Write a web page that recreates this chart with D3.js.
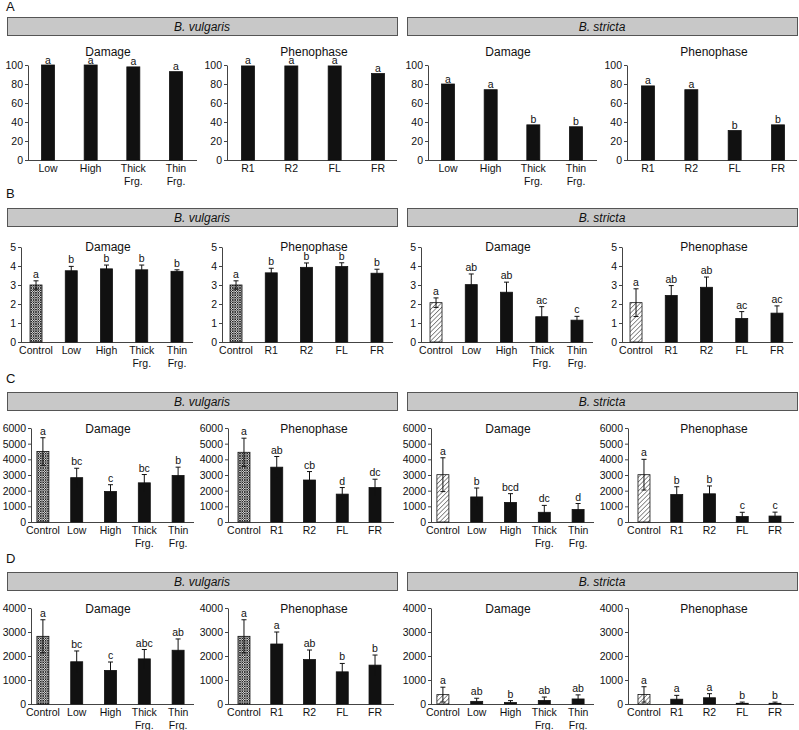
<!DOCTYPE html>
<html>
<head>
<meta charset="utf-8">
<script src="https://cdn.jsdelivr.net/npm/d3@7"></script>
<style>
 body { margin: 0; background: #fff; }
 svg { display: block; font-family: "Liberation Sans", Arial, sans-serif; }
</style>
</head>
<body>
<div id="chart"></div>
<script>
// categories
const dmgCats = ["Low", "High", "Thick Frg.", "Thin Frg."];
const phenCats = ["R1", "R2", "FL", "FR"];
const dmgCatsCtrl = ["Control", ...dmgCats];
const phenCatsCtrl = ["Control", ...phenCats];
const speciesNames = ["B. vulgaris", "B. stricta"];

// tick labels
const ticksA = [0, 20, 40, 60, 80, 100];
const ticksB = [0, 1, 2, 3, 4, 5];
const ticksC = [0, 1000, 2000, 3000, 4000, 5000, 6000];
const ticksD = [0, 1000, 2000, 3000, 4000];

// A
const aVulDmg = [100, 100, 98, 93];
const aVulDmgLet = ["a", "a", "a", "a"];
const aVulPhen = [99, 99, 99, 91];
const aVulPhenLet = ["a", "a", "a", "a"];
const aStrDmg = [80, 74, 37, 35];
const aStrDmgLet = ["a", "a", "b", "b"];
const aStrPhen = [78, 74, 31, 37];
const aStrPhenLet = ["a", "a", "b", "b"];

// B
const bVulDmg = [3.0, 3.75, 3.85, 3.8, 3.72];
const bVulDmgSe = [0.22, 0.23, 0.2, 0.25, 0.08];
const bVulDmgLet = ["a", "b", "b", "b", "b"];
const bVulPhen = [3.0, 3.64, 3.93, 3.97, 3.62];
const bVulPhenSe = [0.22, 0.24, 0.23, 0.2, 0.21];
const bVulPhenLet = ["a", "b", "b", "b", "b"];
const bStrDmg = [2.07, 3.02, 2.62, 1.33, 1.15];
const bStrDmgSe = [0.25, 0.56, 0.53, 0.53, 0.2];
const bStrDmgLet = ["a", "ab", "ab", "ac", "c"];
const bStrPhen = [2.07, 2.45, 2.88, 1.24, 1.52];
const bStrPhenSe = [0.73, 0.52, 0.54, 0.36, 0.38];
const bStrPhenLet = ["a", "ab", "ab", "ac", "ac"];

// C
const cVulDmg = [4500, 2830, 1950, 2500, 2970];
const cVulDmgSe = [880, 600, 430, 530, 530];
const cVulDmgLet = ["a", "bc", "c", "bc", "b"];
const cVulPhen = [4450, 3500, 2680, 1780, 2200];
const cVulPhenSe = [900, 680, 540, 420, 530];
const cVulPhenLet = ["a", "ab", "cb", "d", "dc"];
const cStrDmg = [3020, 1600, 1250, 620, 800];
const cStrDmgSe = [1080, 570, 560, 440, 380];
const cStrDmgLet = ["a", "b", "bcd", "dc", "d"];
const cStrPhen = [3020, 1750, 1800, 350, 380];
const cStrPhenSe = [980, 500, 500, 270, 250];
const cStrPhenLet = ["a", "b", "b", "c", "c"];

// D
const dVulDmg = [2820, 1760, 1400, 1880, 2240];
const dVulDmgSe = [690, 450, 350, 390, 470];
const dVulDmgLet = ["a", "bc", "c", "abc", "ab"];
const dVulPhen = [2820, 2500, 1850, 1340, 1620];
const dVulPhenSe = [690, 500, 400, 350, 420];
const dVulPhenLet = ["a", "a", "ab", "b", "b"];
const dStrDmg = [390, 110, 60, 150, 210];
const dStrDmgSe = [310, 130, 80, 140, 170];
const dStrDmgLet = ["a", "ab", "b", "ab", "ab"];
const dStrPhen = [400, 200, 260, 30, 30];
const dStrPhenSe = [320, 160, 170, 50, 50];
const dStrPhenLet = ["a", "a", "a", "b", "b"];

// layout of each row (pixels)
const rows = [
 { label: "A", labelY: 11, head: 17, top: 65, bottom: 160, titleY: 56, ticks: ticksA, barW: 13,
  dmg: { axis: 28, band: [26.7, 197.3], end: 197 }, phen: { axis: 227, band: [226.3, 399.7], end: 397 },
  sets: [[dmgCats, aVulDmg, null, aVulDmgLet, phenCats, aVulPhen, null, aVulPhenLet],
         [dmgCats, aStrDmg, null, aStrDmgLet, phenCats, aStrPhen, null, aStrPhenLet]] },
 { label: "B", labelY: 198, head: 208, top: 247, bottom: 342, titleY: 251, ticks: ticksB, barW: 12,
  dmg: { axis: 21, band: [18.4, 194.6], end: 193 }, phen: { axis: 222, band: [218.4, 394.6], end: 393 },
  sets: [[dmgCatsCtrl, bVulDmg, bVulDmgSe, bVulDmgLet, phenCatsCtrl, bVulPhen, bVulPhenSe, bVulPhenLet],
         [dmgCatsCtrl, bStrDmg, bStrDmgSe, bStrDmgLet, phenCatsCtrl, bStrPhen, bStrPhenSe, bStrPhenLet]] },
 { label: "C", labelY: 383, head: 392, top: 428, bottom: 522, titleY: 433, ticks: ticksC, barW: 12,
  dmg: { axis: 31, band: [26, 195], end: 194 }, phen: { axis: 228, band: [227.6, 391.4], end: 394 },
  sets: [[dmgCatsCtrl, cVulDmg, cVulDmgSe, cVulDmgLet, phenCatsCtrl, cVulPhen, cVulPhenSe, cVulPhenLet],
         [dmgCatsCtrl, cStrDmg, cStrDmgSe, cStrDmgLet, phenCatsCtrl, cStrPhen, cStrPhenSe, cStrPhenLet]] },
 { label: "D", labelY: 563, head: 572, top: 608, bottom: 704, titleY: 613, ticks: ticksD, barW: 12,
  dmg: { axis: 31, band: [26, 195], end: 194 }, phen: { axis: 228, band: [227.6, 391.4], end: 394 },
  sets: [[dmgCatsCtrl, dVulDmg, dVulDmgSe, dVulDmgLet, phenCatsCtrl, dVulPhen, dVulPhenSe, dVulPhenLet],
         [dmgCatsCtrl, dStrDmg, dStrDmgSe, dStrDmgLet, phenCatsCtrl, dStrPhen, dStrPhenSe, dStrPhenLet]] }
];

const halfX = [0, 400];
const ink = "#111";

const svg = d3.select("#chart").append("svg")
 .attr("width", 799).attr("height", 730);

// fill patterns for the control bars
const defs = svg.append("defs");
const pv = defs.append("pattern").attr("id", "hatchVul")
 .attr("patternUnits", "userSpaceOnUse").attr("width", 2.4).attr("height", 2.4);
pv.append("rect").attr("width", 2.4).attr("height", 2.4).attr("fill", "#e8e8e8");
pv.append("path").attr("d", "M0,0L2.4,2.4M2.4,0L0,2.4").attr("stroke", "#222").attr("stroke-width", 0.8);
const ps = defs.append("pattern").attr("id", "hatchStr")
 .attr("patternUnits", "userSpaceOnUse").attr("width", 3.2).attr("height", 3.2)
 .attr("patternTransform", "rotate(45)");
ps.append("rect").attr("width", 3.2).attr("height", 3.2).attr("fill", "#fff");
ps.append("line").attr("x1", 0).attr("y1", 0).attr("x2", 0).attr("y2", 3.2)
 .attr("stroke", "#222").attr("stroke-width", 1);

const drawPanel = (g, row, lay, cats, vals, se, lets, title, titleX, ctrlFill) => {
 const step = (lay.band[1] - lay.band[0]) / cats.length;
 const pad = 1 - row.barW / step;
 const x = d3.scaleBand().domain(cats).range(lay.band)
  .paddingInner(pad).paddingOuter(pad / 2);
 const y = d3.scaleLinear()
  .domain([0, d3.max(row.ticks)])
  .range([row.bottom, row.top]);

 const ax = g.append("g")
  .attr("transform", `translate(${lay.axis},0)`)
  .call(d3.axisLeft(y).tickValues(row.ticks).tickFormat(d3.format("d"))
   .tickSize(3).tickSizeOuter(0).tickPadding(2));
 ax.select(".domain").attr("stroke", "#444");
 ax.selectAll(".tick line").attr("stroke", "#444");
 ax.selectAll(".tick text").attr("font-size", 10.5).attr("fill", ink)
  .attr("font-family", "Liberation Sans, Arial, sans-serif");

 g.append("line")
  .attr("x1", lay.axis).attr("x2", lay.end)
  .attr("y1", row.bottom + 0.5).attr("y2", row.bottom + 0.5)
  .attr("stroke", "#444");

 g.append("text")
  .attr("x", titleX).attr("y", row.titleY)
  .attr("text-anchor", "middle").attr("font-size", 12).attr("fill", ink)
  .text(title);

 const data = cats.map((c, i) => ({ c, v: vals[i], e: se ? se[i] : 0, l: lets[i] }));
 const cx = (d) => x(d.c) + x.bandwidth() / 2;

 g.selectAll(".bar").data(data).enter().append("rect")
  .attr("x", (d) => x(d.c))
  .attr("y", (d) => y(d.v))
  .attr("width", x.bandwidth())
  .attr("height", (d) => y(0) - y(d.v))
  .attr("fill", (d) => (d.c === "Control" ? ctrlFill : ink))
  .attr("stroke", ink).attr("stroke-width", 0.8);

 if (se) {
  const eb = g.selectAll(".err").data(data).enter().append("g")
   .attr("stroke", ink).attr("stroke-width", 1);
  eb.append("line")
   .attr("x1", cx).attr("x2", cx)
   .attr("y1", (d) => y(Math.max(0, d.v - d.e))).attr("y2", (d) => y(d.v + d.e));
  eb.append("line")
   .attr("x1", (d) => cx(d) - 2.5).attr("x2", (d) => cx(d) + 2.5)
   .attr("y1", (d) => y(d.v + d.e)).attr("y2", (d) => y(d.v + d.e));
  eb.filter((d) => d.c === "Control").append("line")
   .attr("x1", (d) => cx(d) - 2.5).attr("x2", (d) => cx(d) + 2.5)
   .attr("y1", (d) => y(Math.max(0, d.v - d.e))).attr("y2", (d) => y(Math.max(0, d.v - d.e)));
 }

 g.selectAll(".let").data(data).enter().append("text")
  .attr("x", cx)
  .attr("y", (d) => y(d.v + d.e) - (se ? 3 : 1.5))
  .attr("text-anchor", "middle").attr("font-size", 10.5).attr("fill", ink)
  .text((d) => d.l);

 const lab = g.selectAll(".xl").data(data).enter().append("text")
  .attr("x", cx)
  .attr("y", row.bottom + 12)
  .attr("text-anchor", "middle").attr("font-size", 10.5).attr("fill", ink);
 lab.each(function (d) {
  const parts = d.c.split(" ");
  d3.select(this).selectAll("tspan").data(parts).enter().append("tspan")
   .attr("x", cx(d))
   .attr("dy", (p, i) => (i === 0 ? 0 : 12.5))
   .text((p) => p);
 });
};

rows.forEach((row) => {
 svg.append("text")
  .attr("x", 6).attr("y", row.labelY)
  .attr("font-size", 13).attr("fill", ink)
  .text(row.label);

 row.sets.forEach((s, k) => {
  const g = svg.append("g").attr("transform", `translate(${halfX[k]},0)`);
  g.append("rect")
   .attr("x", 7.5).attr("y", row.head + 0.5)
   .attr("width", 390).attr("height", 18)
   .attr("fill", "#c8c8c8").attr("stroke", "#555");
  g.append("text")
   .attr("x", 202).attr("y", row.head + 13.5)
   .attr("text-anchor", "middle").attr("font-size", 12)
   .attr("font-style", "italic").attr("fill", ink)
   .text(speciesNames[k]);

  const fill = k === 0 ? "url(#hatchVul)" : "url(#hatchStr)";
  drawPanel(g, row, row.dmg, s[0], s[1], s[2], s[3], "Damage", 108, fill);
  drawPanel(g, row, row.phen, s[4], s[5], s[6], s[7], "Phenophase", 314, fill);
 });
});
</script>
</body>
</html>
